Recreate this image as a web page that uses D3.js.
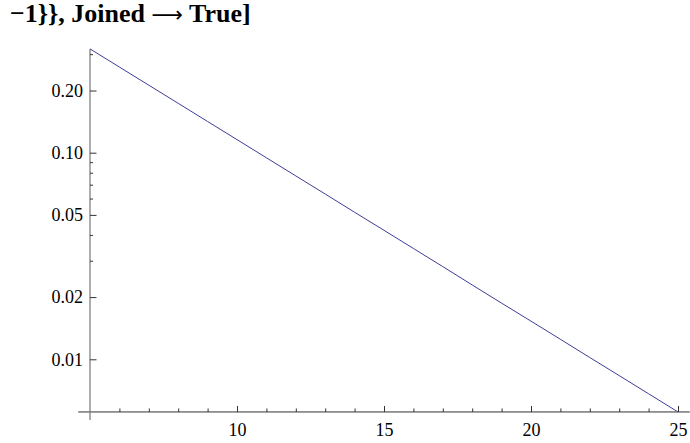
<!DOCTYPE html>
<html>
<head>
<meta charset="utf-8">
<script src="https://cdn.jsdelivr.net/npm/d3@7"></script>
<style>
  body { margin: 0; background: #fff; }
  svg { display: block; }
</style>
</head>
<body>
<div id="chart"></div>
<script>
// data (log-scale line, points at n = 5..25)
const xs = [5, 6, 7, 8, 9, 10, 11, 12, 13, 14, 15, 16, 17, 18, 19, 20, 21, 22, 23, 24, 25];
const values = [0.318, 0.2598, 0.2122, 0.1734, 0.1416, 0.1157, 0.0945, 0.0772, 0.0631, 0.0515,
                0.0421, 0.0344, 0.0281, 0.0229, 0.0187, 0.0153, 0.0125, 0.0102, 0.00834, 0.00681, 0.00556];
const xMajor = [10, 15, 20, 25];
const xMinor = [6, 7, 8, 9, 11, 12, 13, 14, 16, 17, 18, 19, 21, 22, 23, 24];
const yMajor = [0.2, 0.1, 0.05, 0.02, 0.01];
const yMinor = [0.3, 0.09, 0.08, 0.07, 0.06, 0.04, 0.03];

const width = 690, height = 443;
const serif = "Liberation Serif, Times New Roman, serif";

const svg = d3.select("#chart")
  .append("svg")
  .attr("width", width)
  .attr("height", height);

// scales
const x = d3.scaleLinear().domain([5, 25]).range([90, 678]);
const y = d3.scaleLog().domain([0.01, 0.1]).range([359.3, 152.7]);

const yMin = d3.min(values);
const yMax = d3.max(values);
const axisY = y(yMin);   // where the x axis sits
const axisX = x(5);      // where the y axis sits

// title (cut off Mathematica input)
const title = svg.append("text")
  .attr("x", 10)
  .attr("y", 22)
  .attr("font-family", serif)
  .attr("font-weight", "bold")
  .attr("font-size", 26);
title.append("tspan").text("\u22121}}, Joined ");
title.append("tspan").attr("font-family", "DejaVu Sans").attr("font-size", 22).attr("font-weight", "normal").text("\u27F6");
title.append("tspan").text(" True]");

// x axis line
svg.append("line")
  .attr("x1", x(4.6)).attr("x2", x(25.4))
  .attr("y1", axisY).attr("y2", axisY)
  .attr("stroke", "#333").attr("stroke-width", 1);

// y axis line
svg.append("line")
  .attr("x1", axisX).attr("x2", axisX)
  .attr("y1", y(yMax)).attr("y2", axisY + 8)
  .attr("stroke", "#777").attr("stroke-width", 1.2);

// x ticks
const gx = svg.append("g")
  .attr("transform", `translate(0,${axisY})`)
  .call(d3.axisBottom(x).tickValues(xMajor).tickSize(-6).tickPadding(11).tickFormat(d3.format("d")))
  .attr("font-family", serif)
  .attr("font-size", 18);
gx.select(".domain").remove();
gx.selectAll(".tick line").attr("stroke", "#333");

const gxm = svg.append("g")
  .attr("transform", `translate(0,${axisY})`)
  .call(d3.axisBottom(x).tickValues(xMinor).tickSize(-3.5).tickFormat(""));
gxm.select(".domain").remove();
gxm.selectAll(".tick line").attr("stroke", "#333");

// y ticks
const gy = svg.append("g")
  .attr("transform", `translate(${axisX},0)`)
  .call(d3.axisLeft(y).tickValues(yMajor).tickSize(-6.5).tickPadding(7).tickFormat(d3.format(".2f")))
  .attr("font-family", serif)
  .attr("font-size", 18);
gy.select(".domain").remove();
gy.selectAll(".tick line").attr("stroke", "#333");

const gym = svg.append("g")
  .attr("transform", `translate(${axisX},0)`)
  .call(d3.axisLeft(y).tickValues(yMinor).tickSize(-3).tickFormat(""));
gym.select(".domain").remove();
gym.selectAll(".tick line").attr("stroke", "#333");

// the joined line
const line = d3.line()
  .x((d, i) => x(xs[i]))
  .y(d => y(d));

svg.append("path")
  .datum(values)
  .attr("fill", "none")
  .attr("stroke", "#3d3d99")
  .attr("stroke-width", 1)
  .attr("d", line);
</script>
</body>
</html>
